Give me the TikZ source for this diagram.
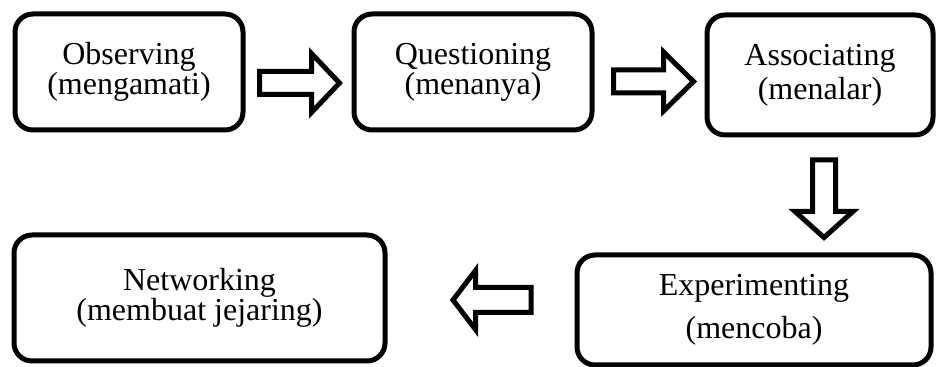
\documentclass[tikz,border=0pt]{standalone}
\usepackage{fontspec}
\setmainfont{Liberation Serif}
\usepackage{tikz}
\usetikzlibrary{shapes,arrows,positioning,calc}

\begin{document}
\begin{tikzpicture}[x=0.5pt, y=-0.5pt,
    every node/.style={font=\fontsize{16}{15}\selectfont},
    stagebox/.style={draw, line width=2.5pt, rounded corners=9pt, fill=white, align=center, inner sep=0pt},
    blockarrow/.style={draw, line width=2.5pt, fill=white, line join=miter}]
        \useasboundingbox (0,0) rectangle (936,367);

        % stages
        \node[stagebox, minimum width=114pt, minimum height=58pt] (obs) at (129,72) {Observing\\(mengamati)};
        \node[stagebox, minimum width=119pt, minimum height=58pt] (que) at (473,72) {Questioning\\(menanya)};
        \node[stagebox, minimum width=113pt, minimum height=60pt] (ass) at (820,75) {Associating\\[2pt](menalar)};
        \node[stagebox, minimum width=177pt, minimum height=55pt] (exp) at (754,310) {Experimenting\\[6.5pt](mencoba)};
        \node[stagebox, minimum width=185.5pt, minimum height=63pt] (net) at (199.5,298) {Networking\\(membuat jejaring)};

        % block arrows between stages
        \coordinate (a1) at ($(obs.east)!0.5!(que.west)+(1,11)$);
        \coordinate (a2) at ($(que.east)!0.5!(ass.west)+(4,8)$);
        \coordinate (a3) at ($(ass.south)+(4,61)$);
        \coordinate (a4) at ($(net.east)!0.5!(exp.west)+(11,-4)$);

        \draw[blockarrow, shift={(a1)}] (-40,-11.5) -- (12,-11.5) -- (12,-29.5) -- (40,0) -- (12,29.5) -- (12,11.5) -- (-40,11.5) -- cycle;
        \draw[blockarrow, shift={(a2)}] (-40,-11.5) -- (10,-11.5) -- (10,-29.5) -- (40,0) -- (10,29.5) -- (10,11.5) -- (-40,11.5) -- cycle;
        \draw[blockarrow, shift={(a3)}, rotate=-90] (-38.5,-11.5) -- (13,-11.5) -- (13,-29) -- (39,0) -- (13,29) -- (13,11.5) -- (-38.5,11.5) -- cycle;
        \draw[blockarrow, shift={(a4)}, rotate=180] (-39,-12.5) -- (16.5,-12.5) -- (16.5,-29.5) -- (39,0) -- (16.5,29.5) -- (16.5,12.5) -- (-39,12.5) -- cycle;
\end{tikzpicture}
\end{document}
